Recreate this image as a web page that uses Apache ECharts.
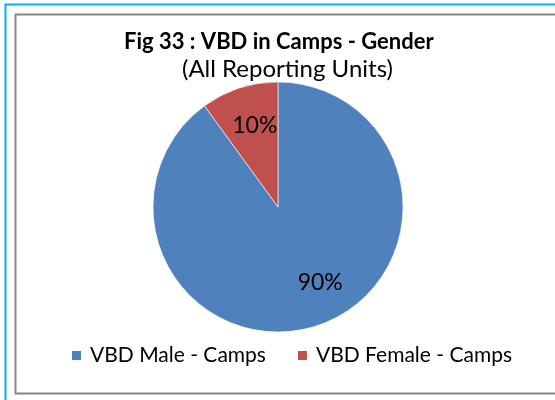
<!DOCTYPE html>
<html>
<head>
<meta charset="utf-8">
<script src="https://cdn.jsdelivr.net/npm/echarts@6/dist/echarts.min.js"></script>
<style>
  html, body { margin: 0; padding: 0; background: #fff; }
  #chart { width: 555px; height: 400px; }
</style>
</head>
<body>
<div id="chart"></div>
<script>
  // 数据
  const categories = ['VBD Male - Camps', 'VBD Female - Camps'];
  const values = [90, 10];
  const colors = ['#4F81BD', '#C0504D'];

  const pieData = categories.map((name, i) => ({ name: name, value: values[i] }));

  const chartObj = echarts.init(document.getElementById('chart'));
  const font = 'Lato, "Open Sans", sans-serif';

  const option = {
    color: colors,
    animation: false,
    title: [
      {
        text: 'Fig 33 : VBD in Camps - Gender',
        left: 119,
        top: 26,
        textStyle: { fontFamily: font, fontWeight: 'bold', fontSize: 22, color: '#000' }
      },
      {
        text: '(All Reporting Units)',
        left: 177,
        top: 52,
        textStyle: { fontFamily: font, fontWeight: 'normal', fontSize: 24, color: '#000' }
      }
    ],
    legend: {
      bottom: 29,
      left: 65,
      itemWidth: 11,
      itemHeight: 11,
      itemGap: 30,
      icon: 'rect',
      textStyle: { fontFamily: font, fontSize: 21, color: '#000', padding: [0, 0, 0, 3] },
      data: categories
    },
    graphic: [
      { type: 'rect', shape: { x: 5.5, y: 4.5, width: 560, height: 410 }, style: { fill: 'none', stroke: '#00B0F0', lineWidth: 2 } },
      { type: 'rect', shape: { x: 15.5, y: 14.5, width: 560, height: 379 }, style: { fill: 'none', stroke: '#868686', lineWidth: 2 } }
    ],
    series: [
      {
        type: 'pie',
        center: [278, 207],
        radius: [0, 125],
        startAngle: 90,
        clockwise: true,
        label: { show: false },
        labelLine: { show: false },
        itemStyle: { borderColor: '#fff', borderWidth: 0.6 },
        emphasis: { disabled: true },
        data: pieData
      },
      {
        // 标签层
        type: 'pie',
        center: [278, 207],
        radius: [45, 125],
        startAngle: 90,
        clockwise: true,
        silent: true,
        legendHoverLink: false,
        itemStyle: { color: 'transparent' },
        label: {
          show: true,
          position: 'inside',
          formatter: '{d}%',
          fontFamily: font,
          fontSize: 23,
          color: '#000'
        },
        labelLine: { show: false },
        data: pieData.map((d, i) => ({
          name: d.name + ' ',
          value: d.value,
          label: i === 0 ? { offset: [15, -8] } : { offset: [4, 2] }
        }))
      }
    ]
  };
  chartObj.setOption(option);
</script>
</body>
</html>
